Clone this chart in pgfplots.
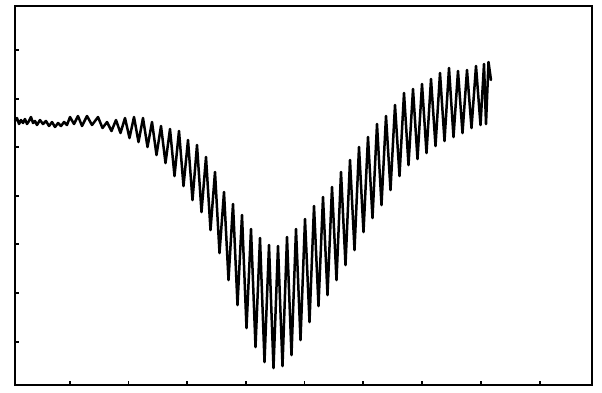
\documentclass[border=0pt]{standalone}
\usepackage{pgfplots}
\pgfplotsset{compat=1.18}
\begin{document}
\begin{tikzpicture}
\begin{axis}[
  x=1pt, y=1pt, y dir=reverse,
  xmin=15, xmax=592, ymin=6, ymax=385,
  axis line style={line width=2pt},
  xtick={70,128.5,187,246,304.5,363,422,481,540},
  ytick={50,99,147,196,244,293,342},
  xticklabels={}, yticklabels={},
  xtick pos=bottom, ytick pos=left,
  tick align=inside,
  major tick length=4pt,
  tick style={line width=1.3pt, black},
  clip=false,
]
\path (axis cs:0,392) rectangle (axis cs:602,0);
\addplot[black, line width=2.5pt, line join=round, line cap=round] coordinates {
(15,121) (17,118) (19,124) (21,120) (23,123) (25,119) (27,124) (29,121) (31,117) (33,123)
(35,121) (37,125) (40,120) (43,124) (46,121) (49,126) (52,122) (55,127) (58,123) (61,126)
(64,122) (67,125) (70,117) (74,124) (78,116) (82,126) (87,116) (92,125)
(98,117) (102.5,128) (107,122) (111.5,131) (116,120) (120.5,133) (125,118) (129.5,138)
(134,117) (138.5,142) (143,118) (147.5,147) (152,122) (156.5,155) (161,126) (165.5,163)
(170,129) (174.5,176) (179,131) (183.5,186) (188,140) (192.5,200) (197,145) (201.5,212)
(206,157) (210.5,230) (215,172) (219.5,253) (224,192) (228.5,280) (233,204) (237.5,305)
(242,215) (246.5,328) (251,229) (255.5,347) (260,238) (264.5,362) (269,245) (273.5,368)
(278,246) (282.5,366) (287,237) (291.5,355) (296,229) (300.5,340) (305,219) (309.5,322)
(314,206) (318.5,306) (323,197) (327.5,295) (332,187) (336.5,280) (341,172) (345.5,265)
(350,160) (354.5,250) (359,147) (363.5,232) (368,137) (372.5,218) (377,124) (381.5,205)
(386,116) (390.5,190) (395,105) (399.5,176) (404,93) (408.5,165) (413,89) (417.5,159)
(422,84) (426.5,153) (431,79) (435.5,146) (440,73) (444.5,141) (449,68) (453.5,137)
(458,71) (462.5,133) (467,70) (471.5,128) (476,66) (480.5,125) (484,64) (486,124)
(488.5,62) (491,80)
};
\end{axis}
\end{tikzpicture}
\end{document}
